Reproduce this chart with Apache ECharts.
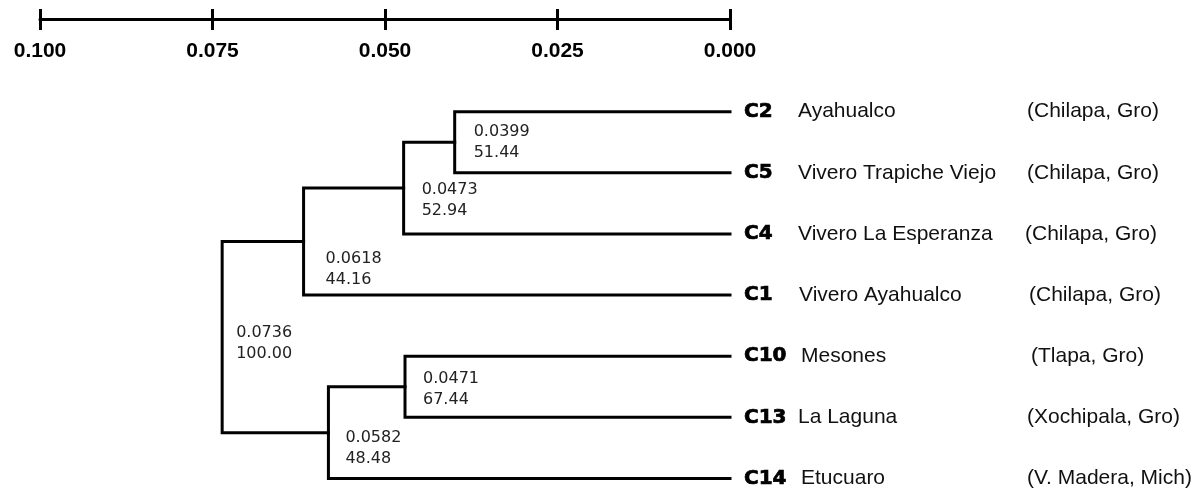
<!DOCTYPE html>
<html>
<head>
<meta charset="utf-8">
<script src="https://cdn.jsdelivr.net/npm/echarts@6/dist/echarts.min.js"></script>
<style>
html,body{margin:0;padding:0;background:#fff;}
#chart{width:1199px;height:493px;}
</style>
</head>
<body>
<div id="chart"></div>
<script>
// ---- data ----
const scaleTicks = [0.100, 0.075, 0.050, 0.025, 0.000];
const leafCodes = ['C2', 'C5', 'C4', 'C1', 'C10', 'C13', 'C14'];
const leafNames = ['Ayahualco', 'Vivero Trapiche Viejo', 'Vivero La Esperanza', 'Vivero Ayahualco', 'Mesones', 'La Laguna', 'Etucuaro'];
const leafPlaces = ['(Chilapa, Gro)', '(Chilapa, Gro)', '(Chilapa, Gro)', '(Chilapa, Gro)', '(Tlapa, Gro)', '(Xochipala, Gro)', '(V. Madera, Mich)'];
const mergeA = ['C2', 'N1', 'N2', 'C10', 'N4', 'N3'];
const mergeB = ['C5', 'C4', 'C1', 'C13', 'C14', 'N5'];
const mergeHeight = [0.0399, 0.0473, 0.0618, 0.0471, 0.0582, 0.0736];
const mergeSupport = ['51.44', '52.94', '44.16', '67.44', '48.48', '100.00'];

// ---- label placement (style, pixels) ----
const mergeLabelDx = [19, 18, 22, 18, 17, 14];
const mergeLabelDy = [0, 12, 28, 3, 16, 6];
const nameDx = [68, 68, 68, 69, 71, 68, 71];
const placeDx = [297, 297, 295, 299, 301, 297, 297];

// ---- tree geometry from data ----
const pos = {};
leafCodes.forEach((c, i) => { pos[c] = { h: 0, y: i }; });
mergeHeight.forEach((h, i) => {
  const a = pos[mergeA[i]], b = pos[mergeB[i]];
  pos['N' + (i + 1)] = { h: h, y: (a.y + b.y) / 2 };
});

const chart = echarts.init(document.getElementById('chart'));
const treeData = mergeHeight.map((h, i) => [h, pos['N' + (i + 1)].y, i]);
const leafData = leafCodes.map((c, i) => [0, i, i]);

chart.setOption({
  animation: false,
  backgroundColor: '#fff',
  grid: [
    { left: 40, right: 469, top: 9, height: 21 },
    { left: 40, right: 469, top: 111.7, bottom: 14.5 }
  ],
  xAxis: [
    {
      gridIndex: 0, type: 'value', min: 0, max: 0.1, interval: 0.025, inverse: true,
      axisLine: { show: true, onZero: true, lineStyle: { color: '#000', width: 3 } },
      axisTick: { show: false },
      splitLine: { show: true, showMinLine: true, showMaxLine: true, lineStyle: { color: '#000', width: 3 } },
      axisLabel: {
        show: true, margin: 11, color: '#000',
        fontFamily: 'Liberation Sans', fontWeight: 'bold', fontSize: 21,
        formatter: v => v.toFixed(3)
      }
    },
    { gridIndex: 1, type: 'value', min: 0, max: 0.1, inverse: true, show: false }
  ],
  yAxis: [
    { gridIndex: 0, type: 'value', min: -1, max: 1, show: false },
    { gridIndex: 1, type: 'value', min: 0, max: 6, inverse: true, show: false }
  ],
  series: [
    {
      type: 'custom',
      xAxisIndex: 1, yAxisIndex: 1,
      data: treeData,
      renderItem: function (params, api) {
        const i = api.value(2);
        const a = pos[mergeA[i]], b = pos[mergeB[i]];
        const h = mergeHeight[i];
        const p1 = api.coord([a.h, a.y]);
        const p2 = api.coord([h, a.y]);
        const p3 = api.coord([h, b.y]);
        const p4 = api.coord([b.h, b.y]);
        const node = api.coord([h, (a.y + b.y) / 2]);
        const lx = node[0] + mergeLabelDx[i];
        const ly = node[1] + mergeLabelDy[i];
        return {
          type: 'group',
          children: [
            {
              type: 'polyline',
              shape: { points: [p1, p2, p3, p4] },
              style: { stroke: '#000', lineWidth: 3, fill: null, lineJoin: 'miter', lineCap: 'square' }
            },
            {
              type: 'text',
              style: {
                x: lx, y: ly - 10.5, text: h.toFixed(4),
                fill: '#222', font: '16px "DejaVu Sans"', textAlign: 'left', textVerticalAlign: 'middle'
              }
            },
            {
              type: 'text',
              style: {
                x: lx, y: ly + 10.5, text: mergeSupport[i],
                fill: '#222', font: '16px "DejaVu Sans"', textAlign: 'left', textVerticalAlign: 'middle'
              }
            }
          ]
        };
      }
    },
    {
      type: 'custom',
      xAxisIndex: 1, yAxisIndex: 1,
      data: leafData,
      renderItem: function (params, api) {
        const i = api.value(2);
        const p = api.coord([0, i]);
        return {
          type: 'group',
          children: [
            {
              type: 'text',
              style: {
                x: p[0] + 14, y: p[1], text: leafCodes[i],
                fill: '#000', stroke: '#000', lineWidth: 0.7,
                font: 'bold 20px "DejaVu Sans"', textAlign: 'left', textVerticalAlign: 'middle'
              }
            },
            {
              type: 'text',
              style: {
                x: p[0] + nameDx[i], y: p[1], text: leafNames[i],
                fill: '#111', font: '21px "Liberation Sans"', textAlign: 'left', textVerticalAlign: 'middle'
              }
            },
            {
              type: 'text',
              style: {
                x: p[0] + placeDx[i], y: p[1], text: leafPlaces[i],
                fill: '#111', font: '21px "Liberation Sans"', textAlign: 'left', textVerticalAlign: 'middle'
              }
            }
          ]
        };
      }
    }
  ]
});
</script>
</body>
</html>
